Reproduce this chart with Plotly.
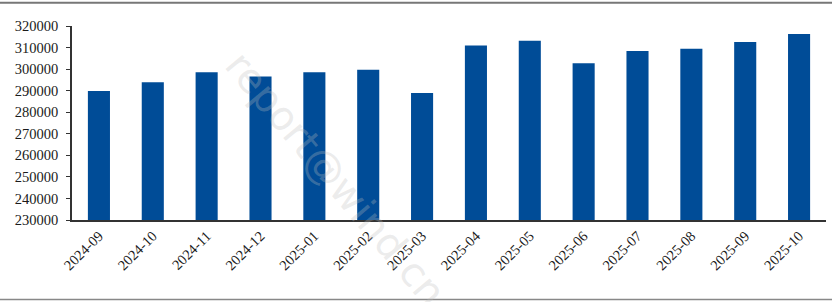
import plotly.graph_objects as go

categories = ["2024-09", "2024-10", "2024-11", "2024-12", "2025-01", "2025-02", "2025-03",
              "2025-04", "2025-05", "2025-06", "2025-07", "2025-08", "2025-09", "2025-10"]
values = [289800, 293900, 298500, 296600, 298500, 299700, 288900,
          311000, 313200, 302700, 308400, 309500, 312600, 316300]
y_ticks = [230000, 240000, 250000, 260000, 270000, 280000, 290000, 300000, 310000, 320000]

fig = go.Figure(go.Bar(x=categories, y=values, marker=dict(color="#004C97", line=dict(width=0))))

font_serif = "Liberation Serif, Times New Roman, serif"
fig.update_layout(
    width=832, height=302,
    margin=dict(l=72, r=6, t=26, b=82),
    paper_bgcolor="white", plot_bgcolor="white",
    bargap=0.59,
    showlegend=False,
    font=dict(family=font_serif, size=14.5, color="#1a1a1a"),
    xaxis=dict(type="category", tickangle=-45, showline=True, linecolor="#333", linewidth=1.5,
               ticks="", showgrid=False, tickfont=dict(family=font_serif, size=14.5, color="#1a1a1a")),
    yaxis=dict(range=[230000, 320000], tickvals=y_ticks, ticktext=[str(v) for v in y_ticks],
               showline=True, linecolor="#333", linewidth=1.5, ticks="outside", ticklen=4,
               tickcolor="#333", showgrid=False, zeroline=False, ticklabelstandoff=5,
               tickfont=dict(family=font_serif, size=14.5, color="#1a1a1a")),
    shapes=[
        dict(type="line", xref="paper", yref="paper", x0=-0.1, x1=1.02, y0=1.12, y1=1.12,
             line=dict(color="#777", width=2)),
        dict(type="line", xref="paper", yref="paper", x0=-0.1, x1=1.02, y0=-0.41, y1=-0.41,
             line=dict(color="#888", width=1.5)),
    ],
    annotations=[
        dict(text="report@wind.cn", xref="paper", yref="paper", x=0.35, y=0.21,
             xanchor="center", yanchor="middle",
             showarrow=False, textangle=50, font=dict(family="DejaVu Sans", size=40,
             color="rgba(190,190,190,0.3)")),
    ],
)

fig.write_html("out.html")
